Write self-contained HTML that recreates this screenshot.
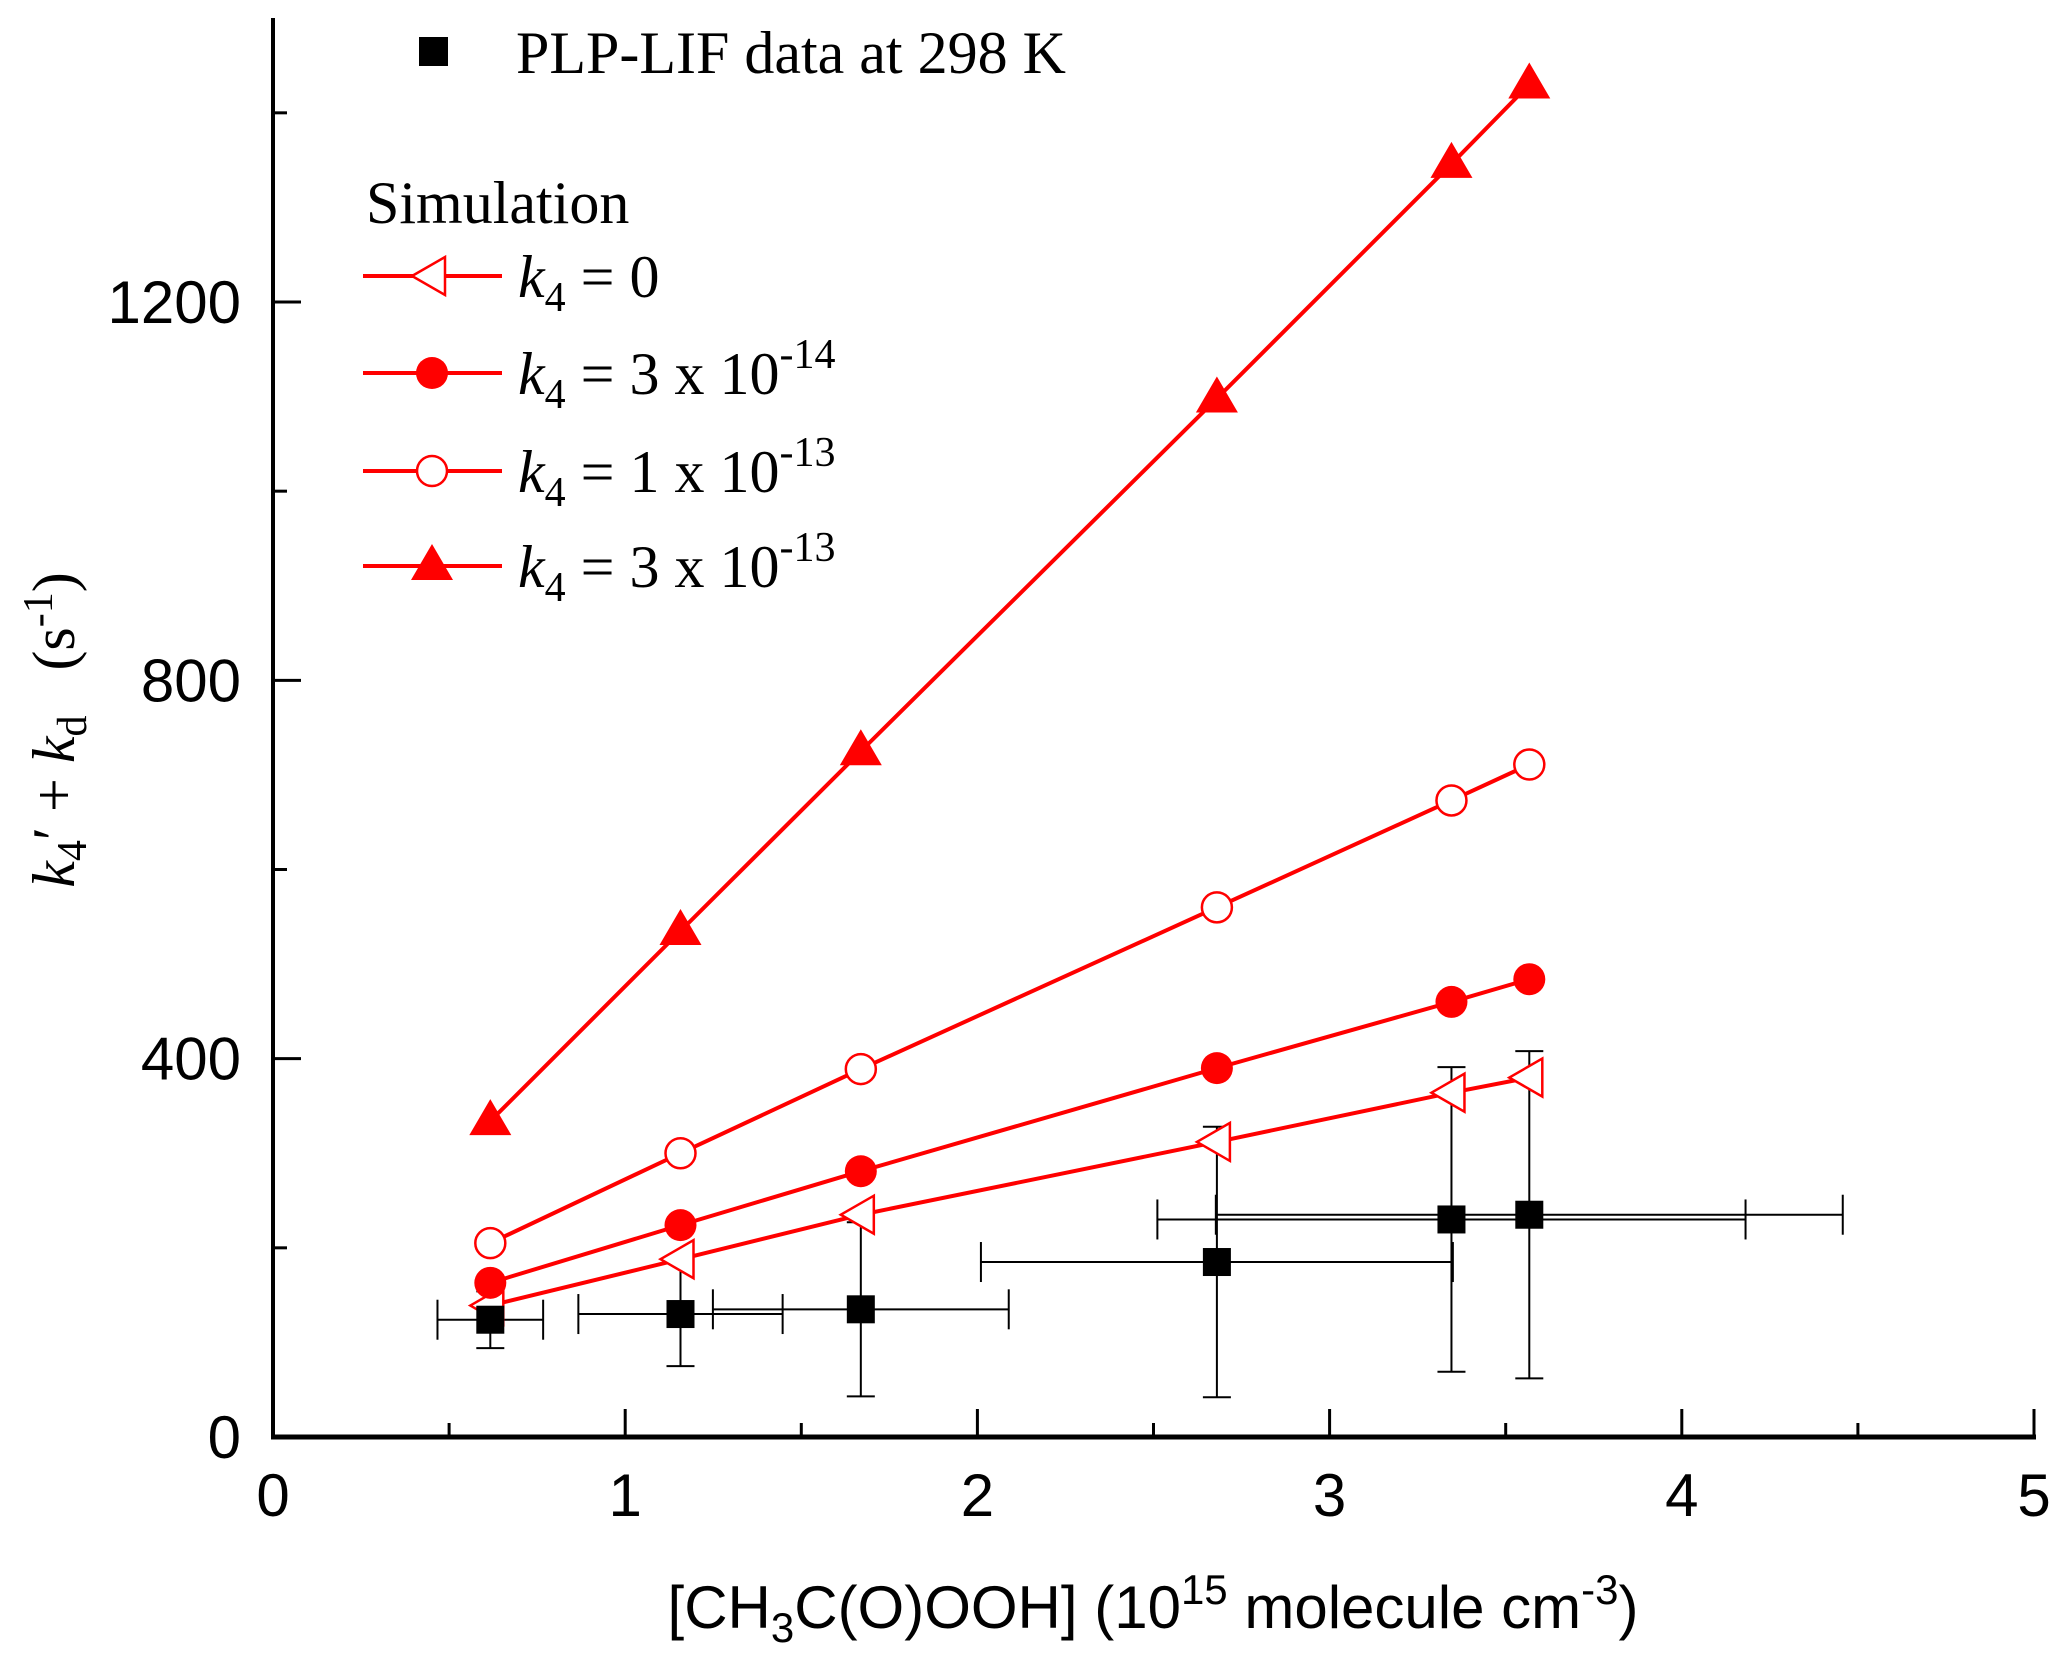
<!DOCTYPE html>
<html><head><meta charset="utf-8"><style>
html,body{margin:0;padding:0;background:#fff;}
svg{display:block;}
</style></head><body>
<svg id="chart" width="2067" height="1659" viewBox="0 0 2067 1659" xmlns="http://www.w3.org/2000/svg">
<g id="axes"></g>
<g id="plot"></g>
<g id="legend" font-family="Liberation Serif, serif" font-size="60" fill="#000">
  <rect x="419" y="37" width="29" height="29" fill="#000"/>
  <text x="516" y="73">PLP-LIF data at 298 K</text>
  <text x="366" y="223">Simulation</text>
</g>
<text transform="translate(74,730) rotate(-90)" text-anchor="middle" font-family="Liberation Serif, serif" font-size="60" xml:space="preserve"><tspan font-style="italic">k</tspan><tspan font-size="42" dy="12">4</tspan><tspan dy="-12">′ + </tspan><tspan font-style="italic">k</tspan><tspan font-size="42" dy="12">d</tspan><tspan dy="-12">   (s</tspan><tspan font-size="42" dy="-22">-1</tspan><tspan dy="22">)</tspan></text>
<text x="1153" y="1628" text-anchor="middle" font-family="Liberation Sans, sans-serif" font-size="60">[CH<tspan font-size="42" dy="14">3</tspan><tspan dy="-14">C(O)OOH] (10</tspan><tspan font-size="42" dy="-24">15</tspan><tspan dy="24"> molecule cm</tspan><tspan font-size="42" dy="-24">-3</tspan><tspan dy="24">)</tspan></text>
</svg>
<script>
const xVals = [0.617, 1.157, 1.669, 2.68, 3.346, 3.567];
const triUp = [334, 535, 725, 1098, 1346, 1430];
const openCircle = [205, 300, 389, 560, 673, 711];
const filledCircle = [163, 224, 281, 390, 460, 484];
const triLeft = [139, 188, 235, 312, 364, 380];
const expY = [124, 130, 135, 185, 230, 235];
const expYErr = [30, 55, 92, 143, 161, 173];
const expXErr = [0.15, 0.29, 0.42, 0.67, 0.835, 0.89];
const xTicks = [0, 1, 2, 3, 4, 5];
const yTicks = [0, 400, 800, 1200];

const NS = 'http://www.w3.org/2000/svg';
const X0 = 273, X1 = 2034, Y0 = 1437, Y1200 = 302;
function sx(v){ return X0 + (X1 - X0) * v / 5; }
function sy(v){ return Y0 - (Y0 - Y1200) * v / 1200; }
function mk(tag, attrs, parent){
  const e = document.createElementNS(NS, tag);
  for (const k in attrs) e.setAttribute(k, attrs[k]);
  parent.appendChild(e);
  return e;
}
const axes = document.getElementById('axes');
const plot = document.getElementById('plot');
const legend = document.getElementById('legend');

let a = mk('line', {x1:X0, y1:18, x2:X0, y2:Y0+2, stroke:'#000','stroke-width':4}, axes);


a = mk('line', {x1:X0-2, y1:Y0, x2:X1+2, y2:Y0, stroke:'#000','stroke-width':5}, axes);



for (let v = 0; v <= 5.001; v += 0.5){
  const major = Math.abs(v - Math.round(v)) < 1e-6;
  const t = mk('line', {x1:sx(v), y1:Y0, x2:sx(v), y2:Y0-(major?28:14), stroke:'#000','stroke-width':3}, axes);
  
  
}
xTicks.forEach(v => {
  const t = mk('text', {x:sx(v), y:1516, 'text-anchor':'middle','font-family':'Liberation Sans, sans-serif','font-size':60}, axes);
  t.textContent = String(v);
  
  
});
for (let v = 0; v <= 1600; v += 200){
  const major = v % 400 === 0;
  if (sy(v) < 18) break;
  const t = mk('line', {x1:X0, y1:sy(v), x2:X0+(major?28:14), y2:sy(v), stroke:'#000','stroke-width':3}, axes);
  
  
}
yTicks.forEach(v => {
  const t = mk('text', {x:241, y:sy(v)+21, 'text-anchor':'end','font-family':'Liberation Sans, sans-serif','font-size':60}, axes);
  t.textContent = String(v);
  
  
});

xVals.forEach((x, i) => {
  const cx = sx(x), cy = sy(expY[i]);
  const g = mk('g', {stroke:'#000','stroke-width':2}, plot);
  
  
  const yl = sy(expY[i]-expYErr[i]), yh = sy(expY[i]+expYErr[i]);
  const xl = sx(x-expXErr[i]), xh = sx(x+expXErr[i]);
  mk('line', {x1:cx, y1:yl, x2:cx, y2:yh}, g);
  mk('line', {x1:cx-14, y1:yl, x2:cx+14, y2:yl}, g);
  mk('line', {x1:cx-14, y1:yh, x2:cx+14, y2:yh}, g);
  mk('line', {x1:xl, y1:cy, x2:xh, y2:cy}, g);
  mk('line', {x1:xl, y1:cy-20, x2:xl, y2:cy+20}, g);
  mk('line', {x1:xh, y1:cy-20, x2:xh, y2:cy+20}, g);
});

function marker(type, cx, cy, parent){
  let e;
  if (type === 'triUp') e = mk('polygon', {points:`${cx},${cy-22} ${cx-21},${cy+14} ${cx+21},${cy+14}`, fill:'#f00', stroke:'none'}, parent);
  else if (type === 'triLeft') e = mk('polygon', {points:`${cx-20},${cy} ${cx+13},${cy-19} ${cx+13},${cy+19}`, fill:'#fff', stroke:'#f00','stroke-width':2.5}, parent);
  else if (type === 'open') e = mk('circle', {cx:cx, cy:cy, r:15, fill:'#fff', stroke:'#f00','stroke-width':2.5}, parent);
  else e = mk('circle', {cx:cx, cy:cy, r:16, fill:'#f00', stroke:'none'}, parent);
  return e;
}
const series = [
  {name:'k4-0', data:triLeft, type:'triLeft'},
  {name:'k4-3e-14', data:filledCircle, type:'filled'},
  {name:'k4-1e-13', data:openCircle, type:'open'},
  {name:'k4-3e-13', data:triUp, type:'triUp'}
];
series.forEach(s => {
  const g = mk('g', {}, plot);
  
  
  const pts = xVals.map((x, i) => `${sx(x)},${sy(s.data[i])}`).join(' ');
  const l = mk('polyline', {points:pts, fill:'none', stroke:'#f00','stroke-width':4}, g);
  
  
  xVals.forEach((x, i) => {
    const m = marker(s.type, sx(x), sy(s.data[i]), g);
    
    
  });
});
xVals.forEach((x, i) => {
  const r = mk('rect', {x:sx(x)-14, y:sy(expY[i])-14, width:28, height:28, fill:'#000'}, plot);
  
  
});

const legRows = [276, 373, 471, 566];
const legLabels = [['0', ''], ['3 x 10', '-14'], ['1 x 10', '-13'], ['3 x 10', '-13']];
series.forEach((s, i) => {
  const y = legRows[i];
  const g = mk('g', {}, legend);
  
  
  mk('line', {x1:363, y1:y, x2:502, y2:y, stroke:'#f00','stroke-width':4}, g);
  marker(s.type, 432, y, g);
  const t = mk('text', {x:518, y:y+21}, g);
  t.innerHTML = `<tspan font-style="italic">k</tspan><tspan font-size="42" dy="14">4</tspan><tspan dy="-14"> = ${legLabels[i][0]}</tspan>` + (legLabels[i][1] ? `<tspan font-size="42" dy="-26">${legLabels[i][1]}</tspan>` : '');
});
</script>
</body></html>
